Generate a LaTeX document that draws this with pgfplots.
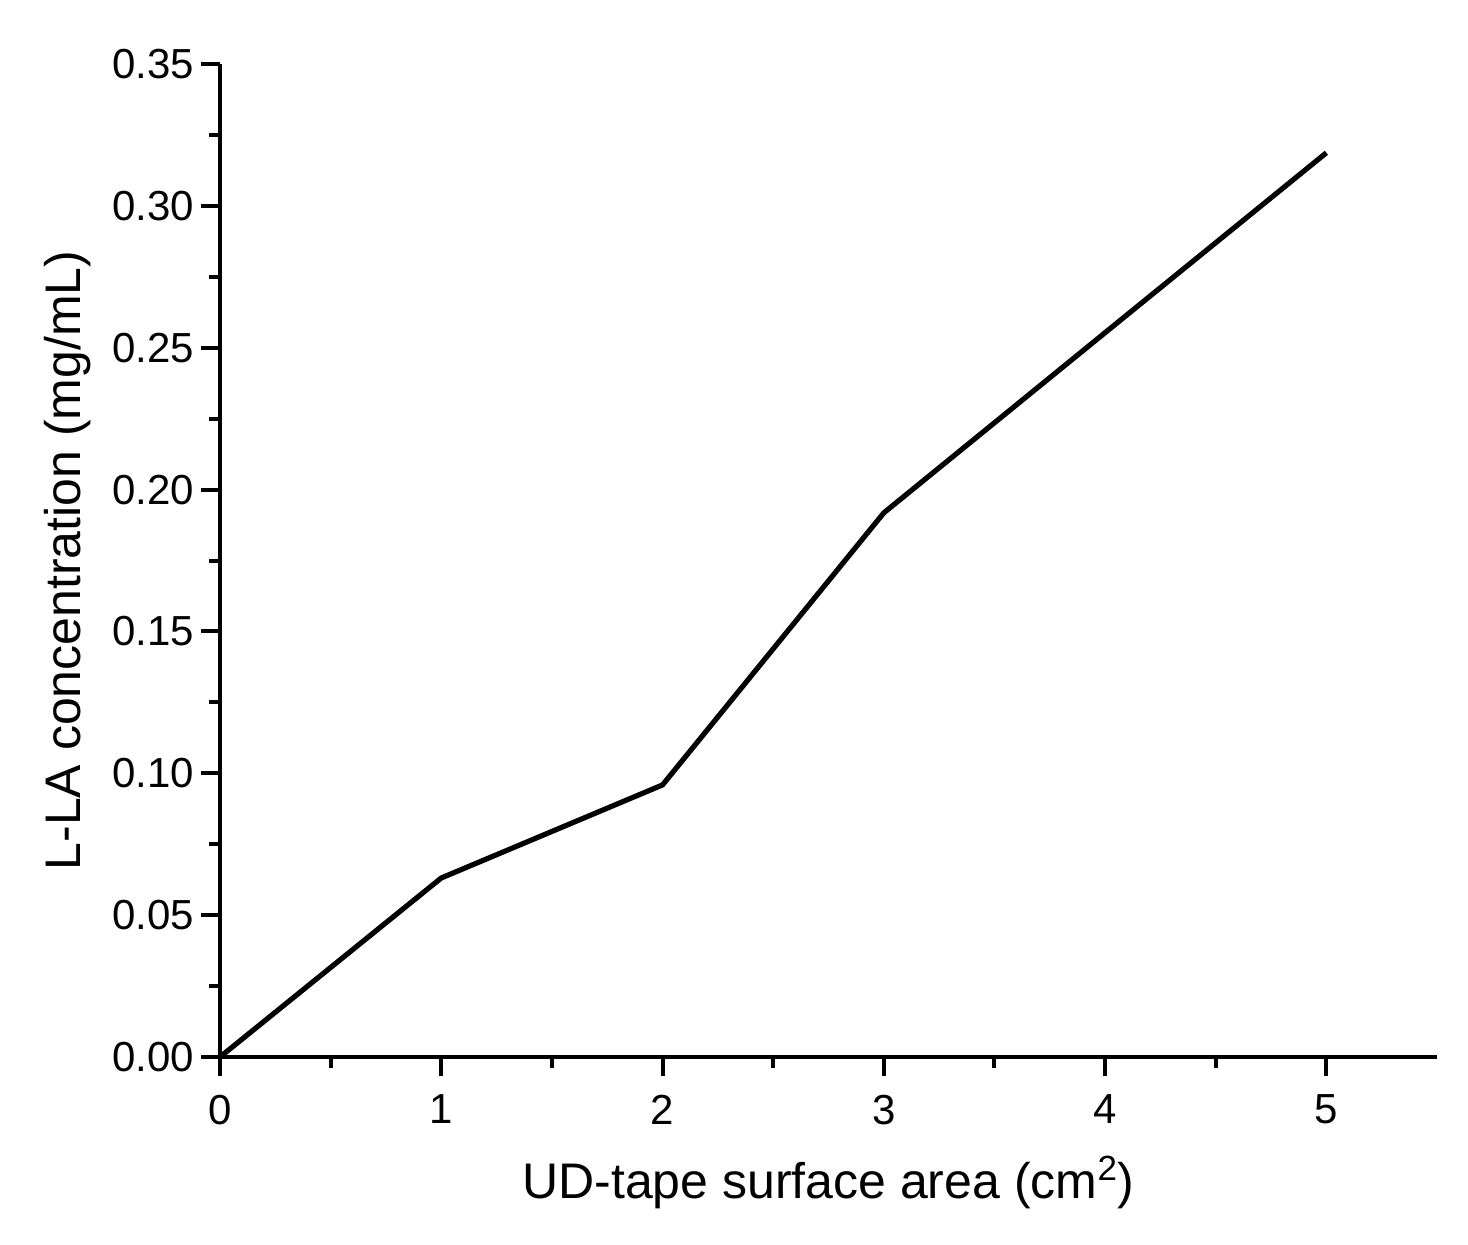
\documentclass[border=0pt]{standalone}
\usepackage{fontspec}
\setmainfont{Liberation Sans}
\usepackage{pgfplots}
\pgfplotsset{compat=1.18}
\begin{document}
\begin{tikzpicture}
\useasboundingbox (-110pt,-93.5pt) rectangle (624pt,528.5pt);
\begin{axis}[
  at={(0,0)}, anchor=south west,
  scale only axis,
  width=608.5pt, height=496.5pt,
  xmin=0, xmax=5.5, ymin=0, ymax=0.35,
  axis lines=left,
  axis line style={line width=2pt, -},
  xtick={0,1,2,3,4,5},
  ytick={0,0.05,0.10,0.15,0.20,0.25,0.30,0.35},
  minor x tick num=1,
  minor y tick num=1,
  tick align=outside,
  major tick length=9.5pt,
  minor tick length=5.5pt,
  tick style={line width=2pt, black},
  every tick label/.append style={font=\fontsize{21}{23}\selectfont},
  /pgf/number format/assume math mode=true,
  yticklabel style={/pgf/number format/.cd, fixed, fixed zerofill, precision=2},
  xticklabel style={yshift=-6pt},
  xlabel={UD-tape surface area (cm\textsuperscript{2})},
  ylabel={L-LA concentration (mg/mL)},
  label style={font=\fontsize{25}{27}\selectfont},
  xlabel style={at={(axis description cs:0.5,0)}, anchor=center, yshift=-62.5pt},
  ylabel style={at={(axis description cs:0,0.5)}, anchor=center, rotate=0, yshift=76pt},
  clip=false,
]
\addplot[black, line width=2.6pt, line join=round] coordinates {
(0,0) (1,0.0631) (2,0.0959) (3,0.1918) (4,0.2553) (5,0.3187)
};
\end{axis}
\end{tikzpicture}
\end{document}
